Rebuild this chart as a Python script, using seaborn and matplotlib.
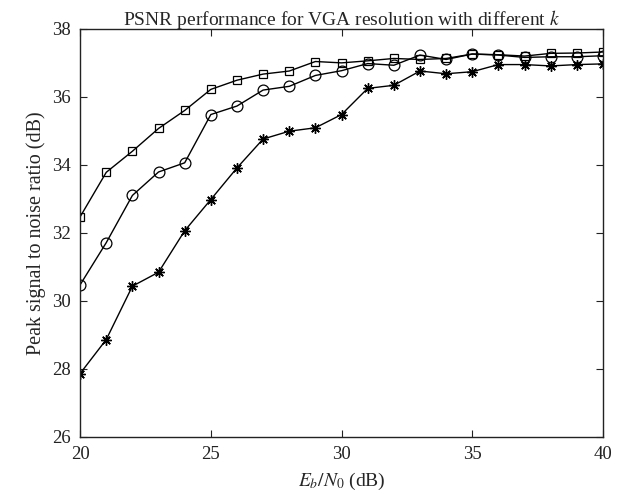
import numpy as np
import pandas as pd
import seaborn as sns
import matplotlib.pyplot as plt

# Eb/N0 (dB)
snr = list(range(20, 41))

# PSNR (dB) para cada k
psnr_quadrado = [32.47, 33.78, 34.40, 35.07, 35.60, 36.22, 36.49, 36.67, 36.76, 37.04, 37.00,
                 37.06, 37.13, 37.10, 37.13, 37.26, 37.24, 37.20, 37.28, 37.29, 37.32]
psnr_circulo = [30.47, 31.71, 33.10, 33.79, 34.06, 35.48, 35.73, 36.20, 36.31, 36.63, 36.77,
                36.98, 36.93, 37.23, 37.10, 37.26, 37.23, 37.16, 37.18, 37.18, 37.21]
psnr_estrela = [27.86, 28.86, 30.43, 30.84, 32.06, 32.98, 33.91, 34.76, 34.99, 35.09, 35.48,
                36.25, 36.34, 36.76, 36.68, 36.74, 36.95, 36.95, 36.91, 36.95, 36.97]

dados = pd.DataFrame({'snr': snr, 'quadrado': psnr_quadrado,
                      'circulo': psnr_circulo, 'estrela': psnr_estrela})

sns.set_style('ticks')
plt.rcParams['font.family'] = ['Liberation Serif', 'DejaVu Serif']
plt.rcParams['mathtext.fontset'] = 'stix'
plt.rcParams['xtick.direction'] = 'in'
plt.rcParams['ytick.direction'] = 'in'

fig, ax = plt.subplots(figsize=(6.21, 4.98), dpi=100)
fig.subplots_adjust(left=0.129, right=0.971, top=0.942, bottom=0.123)

sns.lineplot(x='snr', y='quadrado', data=dados, ax=ax, color='k', lw=1,
             marker='s', ms=5.8, mfc='none', mec='k', mew=0.9)
sns.lineplot(x='snr', y='circulo', data=dados, ax=ax, color='k', lw=1,
             marker='o', ms=7.8, mfc='none', mec='k', mew=0.9)
sns.lineplot(x='snr', y='estrela', data=dados, ax=ax, color='k', lw=1,
             marker=(8, 2, 0), ms=7.5, mfc='none', mec='k', mew=1.0)

ax.set_xlim(20, 40)
ax.set_ylim(26, 38)
ax.set_xticks([20, 25, 30, 35, 40])
ax.set_yticks([26, 28, 30, 32, 34, 36, 38])
ax.tick_params(top=True, right=True, labelsize=13.5, length=5, width=0.8,
               colors='#222222', pad=7)
for s in ax.spines.values():
    s.set_linewidth(1)
    s.set_color('#222222')

ax.set_title('PSNR performance for VGA resolution with different $k$',
             fontsize=14, pad=3)
ax.set_xlabel('$E_b/N_0$ (dB)', fontsize=14, labelpad=5)
ax.set_ylabel('Peak signal to noise ratio (dB)', fontsize=14.5, labelpad=4)

plt.savefig('out.png', dpi=100)
